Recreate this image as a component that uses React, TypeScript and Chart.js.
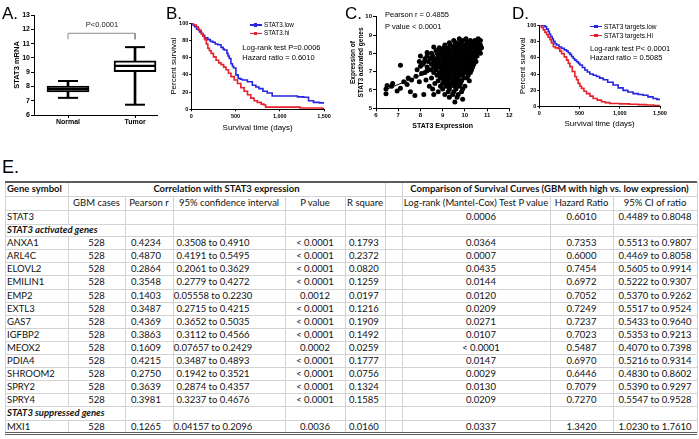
import React, { useEffect, useRef } from 'react';
import { Chart, registerables } from 'chart.js';

Chart.register(...registerables);

const FONT = "'Liberation Sans', Arial, sans-serif";
const TFONT = "Lato, 'Open Sans', sans-serif";
const BLUE = '#2626e0';
const RED = '#e8202a';

// ---------------- Panel A : box plot ----------------
const boxCategories = ['Normal', 'Tumor'];
const boxMin = [7.2, 6.72];
const boxQ1 = [7.62, 9.04];
const boxMedian = [7.82, 9.44];
const boxQ3 = [8.02, 9.8];
const boxMax = [8.38, 10.75];
const bracketLevels = [11.3, 11.72];

// ---------------- Panel B : survival STAT3 ----------------
const bLowDays = [0, 20, 37, 60, 93, 115, 130, 150, 187, 215, 243, 270, 300, 336, 360, 373, 403, 415, 429, 448, 465, 478, 504, 530, 555, 578, 634, 690, 730, 765, 810, 858, 914, 1000, 1082, 1200, 1269, 1325, 1381, 1450, 1500];
const bLowSurv = [100, 98, 96, 93, 90, 88, 86, 83, 81, 79, 78, 76, 75, 72, 70, 69, 65, 62, 59, 53, 50, 48, 40, 36, 35, 34, 32, 28, 26, 24, 21, 19, 15.5, 15.5, 15.5, 14.5, 14, 10, 8, 7.5, 7];
const bHiDays = [0, 25, 56, 80, 112, 130, 150, 170, 187, 205, 224, 250, 280, 310, 336, 365, 392, 420, 448, 485, 522, 560, 597, 635, 672, 710, 746, 790, 821, 840, 900, 1082, 1231, 1400, 1480, 1500];
const bHiSurv = [100, 98, 96, 92, 88, 85, 81, 76, 71, 68, 65, 61, 57, 54, 52, 49, 46, 42, 38, 34, 30, 25, 21, 17, 13, 10, 8, 6, 5, 2.5, 2.5, 2.5, 1.5, 1.5, 1, 0.5];

// ---------------- Panel C : scatter ----------------
const scatterRows: [number, number[]][] = [
  [8.8, [9.75, 10.05, 10.6]],
  [8.7, [9.5, 9.9, 10.25, 10.45, 10.7]],
  [8.58, [9.3, 9.6, 9.8, 10.1, 10.35, 10.55]],
  [8.45, [9.1, 9.35, 9.55, 9.75, 9.95, 10.15, 10.3, 10.5, 10.7]],
  [8.3, [8.85, 9.05, 9.25, 9.45, 9.6, 9.8, 10.0, 10.2, 10.4, 10.6, 10.75]],
  [8.15, [8.7, 8.9, 9.1, 9.3, 9.5, 9.65, 9.85, 10.05, 10.25, 10.45, 10.65]],
  [8.0, [8.5, 8.75, 8.95, 9.15, 9.35, 9.55, 9.7, 9.9, 10.1, 10.3, 10.5, 10.7]],
  [7.85, [8.0, 8.3, 8.55, 8.8, 9.0, 9.2, 9.4, 9.6, 9.75, 9.95, 10.15, 10.35, 10.55]],
  [7.7, [8.2, 8.45, 8.65, 8.85, 9.05, 9.25, 9.45, 9.65, 9.85, 10.05, 10.25, 10.45]],
  [7.55, [7.95, 8.35, 8.6, 8.8, 9.0, 9.2, 9.4, 9.55, 9.75, 9.95, 10.1, 10.3, 10.5]],
  [7.4, [8.1, 8.5, 8.7, 8.9, 9.1, 9.3, 9.5, 9.7, 9.9, 10.05, 10.25, 10.4]],
  [7.25, [8.3, 8.6, 8.8, 9.0, 9.2, 9.4, 9.6, 9.8, 10.0, 10.2, 10.35]],
  [7.1, [8.45, 8.7, 8.95, 9.15, 9.35, 9.55, 9.75, 9.95, 10.1, 10.3]],
  [6.95, [8.2, 8.6, 8.85, 9.05, 9.25, 9.45, 9.65, 9.85, 10.05, 10.25]],
  [6.8, [8.75, 8.95, 9.15, 9.35, 9.55, 9.75, 9.9, 10.15]],
  [6.65, [8.5, 8.9, 9.1, 9.3, 9.5, 9.7, 9.95, 10.1]],
  [6.5, [8.8, 9.05, 9.25, 9.45, 9.65, 9.85, 10.2]],
  [6.35, [8.65, 9.0, 9.2, 9.4, 9.6, 9.8]],
  [6.2, [8.9, 9.15, 9.35, 9.55, 9.75, 10.0]],
  [6.05, [9.0, 9.3, 9.6, 9.9]],
  [5.9, [8.8, 9.25, 9.5, 9.85]],
  [5.75, [8.6, 9.1, 9.45, 9.7]],
  [5.6, [9.3, 9.65]],
  [5.5, [9.9]],
  [5.35, [9.55]],
];
const scatterOutliers: [number, number][] = [
  [6.45, 5.8], [6.45, 6.05], [6.5, 6.25], [6.7, 6.2], [6.75, 6.35], [6.95, 5.95], [7.1, 7.35], [7.1, 6.1],
  [7.25, 6.45], [7.4, 6.3], [7.45, 6.65], [7.55, 5.9], [7.6, 6.55], [7.75, 5.7], [7.8, 6.75], [7.85, 7.1],
  [7.95, 6.45], [8.0, 7.3], [8.05, 6.9], [8.15, 5.75], [8.15, 7.5], [8.25, 6.55], [8.3, 7.05], [8.4, 6.2],
  [8.45, 7.7], [8.55, 6.05], [8.3, 8.05], [8.6, 8.35],
];
const fitLineX = [6.5, 10.8];
const fitLineY = [6.05, 8.2];

// ---------------- Panel D : survival STAT3 targets ----------------
const dLowDays = [0, 40, 70, 90, 112, 125, 140, 160, 174, 195, 215, 245, 277, 310, 339, 360, 380, 400, 421, 440, 463, 485, 504, 535, 566, 597, 628, 670, 711, 750, 793, 850, 917, 980, 1041, 1100, 1165, 1230, 1289, 1350, 1413, 1460, 1496];
const dLowSurv = [100, 99, 98, 95, 92, 89, 86, 83, 80, 77, 75.5, 73, 71.4, 69.5, 68, 66, 64, 61.5, 59, 57, 55, 53, 51, 48, 45, 42.5, 40, 38.5, 37, 35, 33, 30, 26.5, 23, 20, 18, 16, 15, 14, 12, 10, 9, 8];
const dHiDays = [0, 25, 50, 70, 91, 110, 132, 150, 174, 200, 236, 255, 277, 310, 339, 360, 380, 410, 442, 462, 483, 505, 525, 555, 587, 630, 669, 720, 773, 820, 876, 1000, 1124, 1230, 1331, 1420, 1496];
const dHiSurv = [100, 97, 94, 91, 88, 85, 82, 78, 73.5, 72, 71, 68, 65, 61, 57, 53, 49, 43, 37, 33, 28.6, 25, 22.4, 19, 16, 13, 10, 8, 6, 5, 4, 3.5, 3, 2.5, 2, 1.5, 1];

// ---------------- Panel E : table ----------------
const colEdges = [5, 68, 125, 173, 285, 345, 385, 402, 550, 613, 697];
const rowHeights = [14.4, 14, 13.6, 12.6, 13.1, 13.1, 13.1, 13.1, 13.1, 13.1, 13.1, 13.1, 13.1, 13.1, 13.1, 13.1, 13.1, 13.1, 13.1];
const activatedGenes = ['ANXA1', 'ARL4C', 'ELOVL2', 'EMILIN1', 'EMP2', 'EXTL3', 'GAS7', 'IGFBP2', 'MEOX2', 'PDIA4', 'SHROOM2', 'SPRY2', 'SPRY4'];
const activatedCases = ['528', '528', '528', '528', '528', '528', '528', '528', '528', '528', '528', '528', '528'];
const activatedPearson = ['0.4234', '0.4870', '0.2864', '0.3548', '0.1403', '0.3487', '0.4369', '0.3863', '0.1609', '0.4215', '0.2750', '0.3639', '0.3981'];
const activatedCI = ['0.3508 to 0.4910', '0.4191 to 0.5495', '0.2061 to 0.3629', '0.2779 to 0.4272', '0.05558 to 0.2230', '0.2715 to 0.4215', '0.3652 to 0.5035', '0.3112 to 0.4566', '0.07657 to 0.2429', '0.3487 to 0.4893', '0.1942 to 0.3521', '0.2874 to 0.4357', '0.3237 to 0.4676'];
const activatedP = ['< 0.0001', '< 0.0001', '< 0.0001', '< 0.0001', '0.0012', '< 0.0001', '< 0.0001', '< 0.0001', '0.0002', '< 0.0001', '< 0.0001', '< 0.0001', '< 0.0001'];
const activatedR2 = ['0.1793', '0.2372', '0.0820', '0.1259', '0.0197', '0.1216', '0.1909', '0.1492', '0.0259', '0.1777', '0.0756', '0.1324', '0.1585'];
const activatedLogRank = ['0.0364', '0.0007', '0.0435', '0.0144', '0.0120', '0.0209', '0.0271', '0.0107', '< 0.0001', '0.0147', '0.0029', '0.0130', '0.0209'];
const activatedHR = ['0.7353', '0.6000', '0.7454', '0.6972', '0.7052', '0.7249', '0.7237', '0.7023', '0.5487', '0.6970', '0.6446', '0.7079', '0.7270'];
const activatedHRCI = ['0.5513 to 0.9807', '0.4469 to 0.8058', '0.5605 to 0.9914', '0.5222 to 0.9307', '0.5370 to 0.9262', '0.5517 to 0.9524', '0.5433 to 0.9640', '0.5353 to 0.9213', '0.4070 to 0.7398', '0.5216 to 0.9314', '0.4830 to 0.8602', '0.5390 to 0.9297', '0.5547 to 0.9528'];
const stat3Row = ['STAT3', '', '', '', '', '', '0.0006', '0.6010', '0.4489 to 0.8048'];
const suppressedRow = ['MXI1', '528', '0.1265', '0.04157 to 0.2096', '0.0036', '0.0160', '0.0337', '1.3420', '1.0230 to 1.7610'];
const subHeaders = ['', 'GBM cases', 'Pearson r', '95% confidence interval', 'P value', 'R square', 'Log-rank (Mantel-Cox) Test P value', 'Hazard Ratio', '95% CI of ratio'];

// ---------------- helpers ----------------
const baseAxis = (min: number, max: number, step: number, size: number, pad: number, len: number) => ({
  type: 'linear',
  min,
  max,
  offset: false,
  ticks: { stepSize: step, color: '#000', font: { family: FONT, size, weight: 'bold' }, padding: pad, autoSkip: false, maxRotation: 0 },
  grid: { display: true, offset: false, drawOnChartArea: false, drawTicks: true, tickLength: len, color: '#000', tickWidth: 1 },
  border: { display: true, color: '#000', width: 1 },
});

const axTitle = (text: string | string[], size: number, bold: boolean, top: number, bottom: number) => ({
  display: true,
  text,
  color: '#000',
  font: { family: FONT, size, weight: bold ? 'bold' : 'normal' },
  padding: { top, bottom },
});

const common = (padding: any) => ({
  responsive: false,
  animation: false,
  events: [],
  layout: { padding, autoPadding: false },
  plugins: { legend: { display: false }, tooltip: { enabled: false } },
});

function ChartCanvas({ left, top, width, height, build }: { left: number; top: number; width: number; height: number; build: () => any }) {
  const ref = useRef<HTMLCanvasElement | null>(null);
  useEffect(() => {
    if (!ref.current) return;
    const chart = new Chart(ref.current, build());
    return () => chart.destroy();
  }, []);
  return <canvas ref={ref} width={width} height={height} style={{ position: 'absolute', left, top, width, height, display: 'block' }} />;
}

function Txt({ x, y, text, size, bold = false, italic = false, family = FONT, anchor = 'start', color = '#000' }: any) {
  const tx = anchor === 'middle' ? '-50%' : anchor === 'end' ? '-100%' : '0';
  return (
    <div
      style={{
        position: 'absolute',
        left: x,
        top: y,
        transform: `translate(${tx}, -50%)`,
        fontFamily: family,
        fontSize: size,
        fontWeight: bold ? 700 : 400,
        fontStyle: italic ? 'italic' : 'normal',
        lineHeight: 1,
        whiteSpace: 'nowrap',
        color,
      }}
    >
      {text}
    </div>
  );
}

function Swatch({ x, y, color }: { x: number; y: number; color: string }) {
  return (
    <div style={{ position: 'absolute', left: x, top: y - 0.75, width: 12, height: 1.5, background: color }}>
      <div style={{ position: 'absolute', left: 4.3, top: -1, width: 3.5, height: 3.5, background: color }} />
    </div>
  );
}

function HLine({ x0, x1, y, color, w = 1 }: any) {
  return <div style={{ position: 'absolute', left: x0, top: y - w / 2, width: x1 - x0, height: w, background: color }} />;
}
function VLine({ x, y0, y1, color }: any) {
  return <div style={{ position: 'absolute', left: x - 0.5, top: y0, width: 1, height: y1 - y0, background: color }} />;
}

// ---------------- chart builders ----------------
const buildA = () => ({
  type: 'bar',
  data: {
    datasets: [
      {
        type: 'line',
        data: [
          { x: 1, y: bracketLevels[0] },
          { x: 1, y: bracketLevels[1] },
          { x: 2, y: bracketLevels[1] },
          { x: 2, y: bracketLevels[0] },
        ],
        borderColor: '#8c8c8c',
        borderWidth: 1,
        pointRadius: 0,
        fill: false,
        order: 0,
      },
      {
        type: 'scatter',
        data: boxMedian.map((v, i) => ({ x: i + 1, y: v })),
        pointStyle: 'line',
        pointRadius: 20,
        pointBorderColor: '#000',
        pointBorderWidth: 2.2,
        order: 1,
      },
      {
        type: 'scatter',
        data: [...boxMin.map((v, i) => ({ x: i + 1, y: v })), ...boxMax.map((v, i) => ({ x: i + 1, y: v }))],
        pointStyle: 'line',
        pointRadius: 10,
        pointBorderColor: '#000',
        pointBorderWidth: 2,
        order: 1,
      },
      {
        type: 'bar',
        data: boxQ1.map((q, i) => ({ x: i + 1, y: [q, boxQ3[i]] })),
        backgroundColor: '#fff',
        borderColor: '#000',
        borderWidth: 2,
        borderSkipped: false,
        barThickness: 42,
        grouped: false,
        order: 2,
      },
      {
        type: 'bar',
        data: boxMin.map((m, i) => ({ x: i + 1, y: [m, boxMax[i]] })),
        backgroundColor: '#000',
        borderWidth: 0,
        barThickness: 2,
        grouped: false,
        order: 3,
      },
    ],
  },
  options: {
    ...common({ left: 0, top: 15, right: 3, bottom: 0 }),
    scales: {
      x: {
        ...baseAxis(0.4925, 2.328, 1, 7, 0, 3),
        afterBuildTicks: (s: any) => {
          s.ticks = boxCategories.map((_, i) => ({ value: i + 1 }));
        },
        ticks: {
          color: '#000',
          font: { family: FONT, size: 7, weight: 'bold' },
          padding: 0,
          autoSkip: false,
          maxRotation: 0,
          callback: (v: any) => boxCategories[Number(v) - 1] ?? '',
        },
        afterFit: (s: any) => {
          s.height = 17;
        },
      },
      y: {
        ...baseAxis(6, 13, 1, 7, 1, 3),
        title: axTitle('STAT3 mRNA', 7.5, true, 12.2, 0),
        afterFit: (s: any) => {
          s.width = 34;
        },
      },
    },
  },
});

const buildKM = (
  lowDays: number[], lowSurv: number[], hiDays: number[], hiSurv: number[],
  pad: any, yW: number, xH: number, yTitlePad: number, xTickPad: number, xTitlePad: number,
) => () => ({
  type: 'line',
  data: {
    datasets: [
      { data: hiDays.map((d, i) => ({ x: d, y: hiSurv[i] })), borderColor: RED, borderWidth: 1.6, pointRadius: 0, stepped: 'before', fill: false },
      { data: lowDays.map((d, i) => ({ x: d, y: lowSurv[i] })), borderColor: BLUE, borderWidth: 1.6, pointRadius: 0, stepped: 'before', fill: false },
    ],
  },
  options: {
    ...common(pad),
    scales: {
      x: {
        ...baseAxis(0, 1500, 500, 5.5, xTickPad, 2),
        title: axTitle('Survival time (days)', 8, false, 0, xTitlePad),
        afterFit: (s: any) => {
          s.height = xH;
        },
      },
      y: {
        ...baseAxis(0, 100, 20, 5.5, 1, 2),
        title: axTitle('Percent survival', 8, false, yTitlePad, 0),
        afterFit: (s: any) => {
          s.width = yW;
        },
      },
    },
  },
});

const buildB = buildKM(bLowDays, bLowSurv, bHiDays, bHiSurv, { left: 0, top: 23.3, right: 8, bottom: 0 }, 31.3, 25.7, 9.2, 2.1, 2.5);
const buildD = buildKM(dLowDays, dLowSurv, dHiDays, dHiSurv, { left: 0, top: 25, right: 39, bottom: 0 }, 24.3, 28.3, 3.2, 1, 6.2);

const buildC = () => {
  const pts: { x: number; y: number }[] = [];
  scatterRows.forEach(([y, xs]) => xs.forEach((x) => pts.push({ x, y })));
  scatterOutliers.forEach(([x, y]) => pts.push({ x, y }));
  return {
    type: 'scatter',
    data: {
      datasets: [
        {
          type: 'line',
          data: fitLineX.map((x, i) => ({ x, y: fitLineY[i] })),
          borderColor: '#000',
          borderWidth: 1,
          pointRadius: 0,
          fill: false,
          order: 0,
        },
        { data: pts, backgroundColor: '#000', borderWidth: 0, pointRadius: 2.5, order: 1 },
      ],
    },
    options: {
      ...common({ left: 0, top: 16.7, right: 4.7, bottom: 0 }),
      scales: {
        x: {
          ...baseAxis(6, 12, 1, 6, 0.1, 3),
          title: axTitle('STAT3 Expression', 7, true, 0, 4.8),
          afterFit: (s: any) => {
            s.height = 26.7;
          },
        },
        y: {
          ...baseAxis(5, 10, 1, 6, 1, 3),
          title: axTitle(['Expression of', 'STAT3 activated genes'], 6.5, true, 9.1, 0),
          afterFit: (s: any) => {
            s.width = 36;
          },
        },
      },
    },
  };
};

// ---------------- table ----------------
const GRID = '#d3d3d3';
const DARK = '#5c5c5c';
const TSIZE = 9.5;

const colAlign = ['left', 'center', 'center', 'center', 'center', 'left', 'center', 'center', 'center'];
const colShift = [0, 0, -3, -16, 0, 0, 5, 0, 0];
const dataCols = [0, 1, 2, 3, 4, 5, 7, 8, 9];

function DataTable() {
  const tops: number[] = [];
  let acc = 182;
  rowHeights.forEach((h) => {
    tops.push(acc);
    acc += h;
  });
  const bottom = acc;
  const cy = (r: number) => tops[r] + rowHeights[r] / 2;
  const left = colEdges[0];
  const right = colEdges[colEdges.length - 1];

  const rows: { kind: 'data' | 'label'; cells: string[] }[] = [
    { kind: 'data', cells: stat3Row },
    { kind: 'label', cells: ['STAT3 activated genes'] },
    ...activatedGenes.map((g, i) => ({
      kind: 'data' as const,
      cells: [g, activatedCases[i], activatedPearson[i], activatedCI[i], activatedP[i], activatedR2[i], activatedLogRank[i], activatedHR[i], activatedHRCI[i]],
    })),
    { kind: 'label', cells: ['STAT3 suppressed genes'] },
    { kind: 'data', cells: suppressedRow },
  ];

  const els: React.ReactNode[] = [];
  for (let r = 1; r < rowHeights.length; r++) {
    els.push(<HLine key={`h${r}`} x0={left} x1={right} y={tops[r]} color={GRID} />);
  }
  colEdges.forEach((x, ci) => {
    rowHeights.forEach((h, r) => {
      const kind = r >= 2 ? rows[r - 2].kind : 'header';
      if (r === 0 && ![0, 1, 6, 7, 10].includes(ci)) return;
      if (kind === 'label' && ci === 1) return;
      els.push(<VLine key={`v${ci}_${r}`} x={x} y0={tops[r]} y1={tops[r] + h} color={GRID} />);
    });
  });
  els.push(<HLine key="top" x0={left} x1={right} y={tops[0]} color={DARK} w={1.5} />);
  els.push(<HLine key="bot1" x0={left} x1={right} y={bottom - 1} color={DARK} w={1} />);
  els.push(<HLine key="bot2" x0={left} x1={right} y={bottom + 1} color={DARK} w={1} />);

  const tp = { family: TFONT, size: TSIZE, color: '#111' };
  els.push(<Txt key="h0" x={colEdges[0] + 2} y={cy(0)} text="Gene symbol" bold {...tp} />);
  els.push(<Txt key="h1" x={(colEdges[1] + colEdges[6]) / 2} y={cy(0)} text="Correlation with STAT3 expression" bold anchor="middle" {...tp} />);
  els.push(
    <Txt key="h2" x={(colEdges[7] + colEdges[10]) / 2} y={cy(0)} text="Comparison of Survival Curves (GBM with high vs. low expression)" bold anchor="middle" {...tp} />,
  );
  subHeaders.forEach((t, k) => {
    if (!t) return;
    const c = dataCols[k];
    const x0 = colEdges[c];
    const x1 = colEdges[c + 1];
    if (k === 5) els.push(<Txt key={`s${k}`} x={x0 + 2} y={cy(1)} text={t} {...tp} />);
    else els.push(<Txt key={`s${k}`} x={(x0 + x1) / 2} y={cy(1)} text={t} anchor="middle" {...tp} />);
  });
  rows.forEach((row, i) => {
    const r = i + 2;
    if (row.kind === 'label') {
      els.push(<Txt key={`l${r}`} x={colEdges[0] + 2} y={cy(r)} text={row.cells[0]} bold italic {...tp} />);
      return;
    }
    row.cells.forEach((t, k) => {
      if (!t) return;
      const c = dataCols[k];
      const x0 = colEdges[c];
      const x1 = colEdges[c + 1];
      if (colAlign[k] === 'left') {
        els.push(<Txt key={`c${r}_${k}`} x={x0 + (k === 5 ? 4 : 2)} y={cy(r)} text={t} {...tp} />);
      } else {
        els.push(<Txt key={`c${r}_${k}`} x={(x0 + x1) / 2 + colShift[k]} y={cy(r)} text={t} anchor="middle" {...tp} />);
      }
    });
  });
  return <>{els}</>;
}

export default function App() {
  return (
    <div style={{ position: 'absolute', left: 0, top: 0, width: 699, height: 439, background: '#fff', overflow: 'hidden' }}>
      <ChartCanvas left={0} top={0} width={160} height={132} build={buildA} />
      <ChartCanvas left={160} top={0} width={173} height={135} build={buildB} />
      <ChartCanvas left={340} top={0} width={174} height={135} build={buildC} />
      <ChartCanvas left={515} top={0} width={184} height={135} build={buildD} />

      <Txt x={2} y={12.8} text="A." size={17} />
      <Txt x={166} y={12.8} text="B." size={17} />
      <Txt x={345} y={12.8} text="C." size={17} />
      <Txt x={512} y={12.8} text="D." size={17} />
      <Txt x={2} y={166.5} text="E." size={18} />

      <Txt x={102} y={25} text="P<0.0001" size={7.5} anchor="middle" color="#222" />

      <Swatch x={249.7} y={25} color={BLUE} />
      <Txt x={264} y={25} text="STAT3.low" size={6.3} />
      <Swatch x={249.7} y={33.3} color={RED} />
      <Txt x={264} y={33.3} text="STAT3.hi" size={6.3} />
      <Txt x={242.3} y={48.3} text="Log-rank test P=0.0006" size={7.5} />
      <Txt x={242.3} y={57.7} text="Hazard ratio = 0.6010" size={7.5} />

      <Txt x={385} y={15} text="Pearson r = 0.4855" size={7.5} />
      <Txt x={385} y={26.7} text="P value < 0.0001" size={7.5} />

      <Swatch x={590} y={26.7} color={BLUE} />
      <Txt x={604} y={26.7} text="STAT3 targets.low" size={6.5} />
      <Swatch x={590} y={35.7} color={RED} />
      <Txt x={604} y={35.7} text="STAT3 targets.Hi" size={6.5} />
      <Txt x={590} y={49.3} text="Log-rank test P< 0.0001" size={7.5} />
      <Txt x={590} y={58.3} text="Hazard ratio = 0.5085" size={7.5} />

      <DataTable />
    </div>
  );
}
